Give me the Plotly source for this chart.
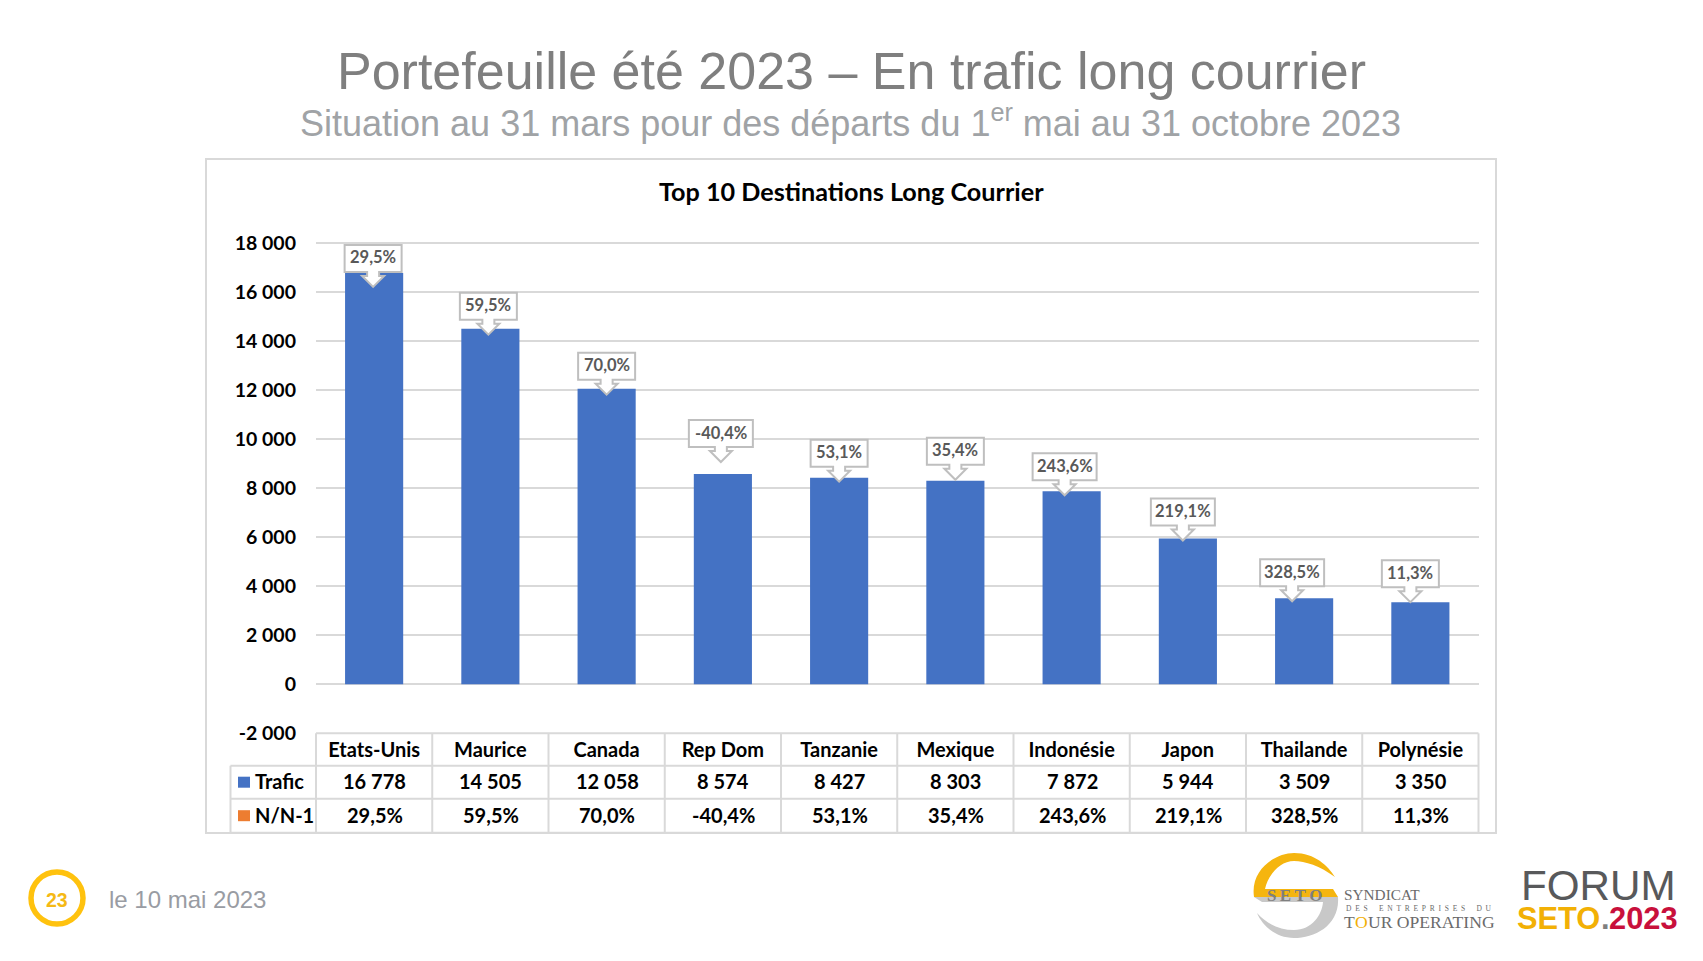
import plotly.graph_objects as go

categories = ["Etats-Unis", "Maurice", "Canada", "Rep Dom", "Tanzanie", "Mexique", "Indonésie", "Japon", "Thailande", "Polynésie"]
trafic = [16778, 14505, 12058, 8574, 8427, 8303, 7872, 5944, 3509, 3350]
evolution = [29.5, 59.5, 70.0, -40.4, 53.1, 35.4, 243.6, 219.1, 328.5, 11.3]
y_ticks = [-2000, 0, 2000, 4000, 6000, 8000, 10000, 12000, 14000, 16000, 18000]
callout_dx = [-1, -2, 0, -2, 0, 0, -7, -5, -12, -10]
callout_dy = [-14, -6, -6, 12, -4, 1, -4, -2, -3, 0]

W, H = 1703, 961
PX0, PX1, PY0, PY1 = 316.0, 1478.5, 243.0, 733.3
YMAX = 18120
ROWS = [733.3, 765.7, 798.7, 832.7]
GRID = "#d9d9d9"
LABEL_FONT = "Lato"
SANS = "Liberation Sans"
SERIF = "Liberation Serif"
BLUE, ORANGE = "#4472C4", "#ED7D31"
YELLOW, RED = "#F2B005", "#C8103C"


def fx(x):
    return x / W


def fy(y):
    return 1 - y / H


def P(x, y):
    return f"{fx(x):.5f},{fy(y):.5f}"


def fr(v):
    return f"{v:,}".replace(",", " ")


def pct(v):
    return f"{v:.1f}%".replace(".", ",")


fig = go.Figure(go.Bar(x=categories, y=trafic, width=0.5, marker=dict(color=BLUE, line_width=0), name="Trafic"))

shapes, ann = [], []


def text(x, y, s, size, color="#000000", family=LABEL_FONT, bold=False, anchor="center"):
    ann.append(dict(xref="paper", yref="paper", x=fx(x), y=fy(y), text=f"<b>{s}</b>" if bold else s, showarrow=False,
                    xanchor=anchor, yanchor="middle", font=dict(size=size, color=color, family=family)))


def line(x0, y0, x1, y1, w=2, color=GRID):
    shapes.append(dict(type="line", xref="paper", yref="paper", x0=fx(x0), y0=fy(y0), x1=fx(x1), y1=fy(y1),
                       line=dict(color=color, width=w), layer="above"))


# frame
shapes.append(dict(type="rect", xref="paper", yref="paper", x0=fx(206), x1=fx(1496), y0=fy(159), y1=fy(833),
                   line=dict(color=GRID, width=2), layer="below"))

# table
col = (PX1 - PX0) / len(categories)
for i in range(len(categories) + 1):
    line(PX0 + i * col, ROWS[0], PX0 + i * col, ROWS[3])
for r in ROWS[1:]:
    line(230.5, r, PX1, r)
line(PX0, ROWS[0], PX1, ROWS[0])
line(230.5, ROWS[1], 230.5, ROWS[3])
for i, (t, e) in enumerate(zip(trafic, evolution)):
    cx = PX0 + (i + 0.5) * col + 0.5
    text(cx, (ROWS[1] + ROWS[2]) / 2 - 1, fr(t), 20, bold=True)
    text(cx, (ROWS[2] + ROWS[3]) / 2 - 1, pct(e), 20, bold=True)
for r, name, c in [(0, "Trafic", BLUE), (1, "N/N-1", ORANGE)]:
    yc = (ROWS[1 + r] + ROWS[2 + r]) / 2
    shapes.append(dict(type="rect", xref="paper", yref="paper", x0=fx(238), x1=fx(250), y0=fy(yc - 5.5), y1=fy(yc + 5.5),
                       fillcolor=c, line_width=0, layer="above"))
    text(253, yc - 1, name, 20, anchor="left", bold=True)

# callouts
for c, v, dx, dy, e in zip(categories, trafic, callout_dx, callout_dy, evolution):
    w = 32 if len(pct(e)) > 5 else 28.5
    path = (f"M {dx-w},{dy+15} L {dx-w},{dy+42} L {dx+w},{dy+42} L {dx+w},{dy+15} L {dx+6},{dy+15} L {dx+6},{dy+11} "
            f"L {dx+11},{dy+11} L {dx},{dy} L {dx-11},{dy+11} L {dx-6},{dy+11} L {dx-6},{dy+15} Z")
    shapes.append(dict(type="path", xref="x", yref="y", xsizemode="pixel", ysizemode="pixel", xanchor=c, yanchor=v,
                       path=path, fillcolor="#ffffff", line=dict(color="#bfbfbf", width=2), layer="above"))
    ann.append(dict(xref="x", yref="y", x=c, y=v, text=f"<b>{pct(e)}</b>", showarrow=False, xshift=dx, yshift=dy + 29.5,
                    font=dict(size=16.5, color="#595959", family=LABEL_FONT), xanchor="center", yanchor="middle"))

# titles
text(851, 71, "Portefeuille été 2023 – En trafic long courrier", 52, "#7f7f7f", SANS)
text(850, 121.5, "Situation au 31 mars pour des départs du 1<sup>er</sup> mai au 31 octobre 2023", 36, "#a0a3a6", SANS)
text(851, 191, "<b>Top 10 Destinations Long Courrier</b>", 25.2)

# footer
shapes.append(dict(type="circle", xref="paper", yref="paper", x0=fx(31), x1=fx(83), y0=fy(872), y1=fy(924),
                   line=dict(color="#FFC20E", width=5.5), fillcolor="#ffffff"))
text(57, 900, "<b>23</b>", 19.5, "#F5B915", SANS)
text(107, 899, "le 10 mai 2023", 24, "#999ca3", SANS, anchor="left")

# logo SETO
yellow_path = ("M " + P(1254, 897) + " C " + P(1250, 870) + " " + P(1275, 853) + " " + P(1294, 853) + " C " + P(1315, 853) + " "
               + P(1328, 866) + " " + P(1335, 877) + " C " + P(1320, 866) + " " + P(1305, 861) + " " + P(1294, 861) + " C "
               + P(1280, 861) + " " + P(1268, 875) + " " + P(1265, 889) + " L " + P(1333, 889) + " L " + P(1338, 897) + " Z")
gray_path = ("M " + P(1254, 897) + " L " + P(1338, 897) + " C " + P(1340, 925) + " " + P(1315, 938) + " " + P(1294, 938) + " C "
             + P(1275, 938) + " " + P(1262, 925) + " " + P(1257, 913) + " C " + P(1268, 925) + " " + P(1280, 930) + " "
             + P(1294, 930) + " C " + P(1312, 930) + " " + P(1322, 915) + " " + P(1323, 902) + " L " + P(1262, 902) + " Z")
for p, c in [(yellow_path, "#F5B50F"), (gray_path, "#C8C8C8")]:
    shapes.append(dict(type="path", xref="paper", yref="paper", path=p, fillcolor=c, line_width=0, layer="above"))
text(1295, 895, "<b>S\u2009E\u2009T\u2009O</b>", 17, "#7f7f7f", SERIF)
text(1342, 894, "SYNDICAT", 15.3, "#6b6b6b", SERIF, anchor="left")
tiny = "\u00a0\u00a0\u00a0\u00a0\u00a0\u00a0".join("\u00a0\u00a0".join(w) for w in ["DES", "ENTREPRISES", "DU"])
text(1344, 908, tiny, 7.5, "#6b6b6b", SERIF, anchor="left")
text(1342, 922, "T", 17.6, "#6b6b6b", SERIF, anchor="left")
text(1352.8, 922, "O", 17.6, YELLOW, SERIF, anchor="left")
text(1365.5, 922, "UR OPERATING", 17.6, "#6b6b6b", SERIF, anchor="left")

# logo forum
text(1598, 885, "FORUM", 42.2, "#58595B", SANS)
text(1514.5, 918, "<b>SETO</b>", 30.8, YELLOW, SANS, anchor="left")
text(1598.5, 918, "<b>.</b>", 30.8, "#7f7f7f", SANS, anchor="left")
text(1607, 918, "<b>2023</b>", 30.8, RED, SANS, anchor="left")

fig.update_layout(
    width=W, height=H, autosize=False, margin=dict(l=0, r=0, t=0, b=0), paper_bgcolor="#ffffff", plot_bgcolor="#ffffff",
    showlegend=False, shapes=shapes, annotations=ann, bargap=0.5,
    font=dict(family=LABEL_FONT, color="#000000"),
    xaxis=dict(domain=[fx(PX0), fx(PX1)], type="category", range=[-0.5, 9.5], categoryorder="array", categoryarray=categories,
               side="bottom", showgrid=False, zeroline=False, showline=False, ticks="", anchor="y", automargin=False,
               tickfont=dict(size=20, family=LABEL_FONT, color="#000000", weight=700), ticklabelstandoff=3),
    yaxis=dict(domain=[fy(PY1), fy(PY0 - (YMAX - 18000) / 20000 * (PY1 - PY0))], range=[-2000, YMAX], tickmode="array", tickvals=y_ticks,
               ticktext=[fr(v) for v in y_ticks], showgrid=True, gridcolor=GRID, gridwidth=1.8, zeroline=False, showline=False,
               automargin=False, ticks="", tickfont=dict(size=19.5, family=LABEL_FONT, color="#000000", weight=700),
               ticklabelstandoff=19, anchor="x"),
)

fig.write_html("out.html", config={"displayModeBar": False},
               post_script="document.body.style.margin='0';document.body.style.overflow='hidden';")
